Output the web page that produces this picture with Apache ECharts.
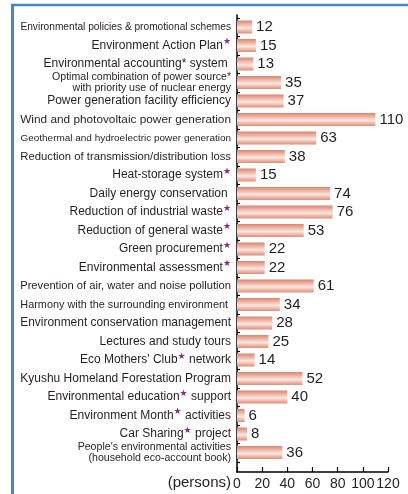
<!DOCTYPE html>
<html><head><meta charset="utf-8">
<script src="https://cdn.jsdelivr.net/npm/echarts@6/dist/echarts.min.js"></script>
<style>html,body{margin:0;padding:0;background:#fff}#c{width:408px;height:494px}</style>
</head><body><div id="c"></div>
<script>
// ---- data ----
const categories = [
  'Environmental policies & promotional schemes',
  'Environment Action Plan★',
  'Environmental accounting* system ',
  'Optimal combination of power source*\nwith priority use of nuclear energy',
  'Power generation facility efficiency',
  'Wind and photovoltaic power generation',
  'Geothermal and hydroelectric power generation',
  'Reduction of transmission/distribution loss',
  'Heat-storage system★',
  'Daily energy conservation ',
  'Reduction of industrial waste★',
  'Reduction of general waste★',
  'Green procurement★',
  'Environmental assessment★',
  'Prevention of air, water and noise pollution',
  'Harmony with the surrounding environment ',
  'Environment conservation management',
  'Lectures and study tours',
  "Eco Mothers' Club★ network",
  'Kyushu Homeland Forestation Program',
  'Environmental education★ support',
  'Environment Month★ activities',
  'Car Sharing★ project',
  "People's environmental activities\n(household eco-account book)"
];
const values = [12, 15, 13, 35, 37, 110, 63, 38, 15, 74, 76, 53, 22, 22, 61, 34, 28, 25, 14, 52, 40, 6, 8, 36];
const xMin = 0, xMax = 120, xStep = 20;
const unitLabel = '(persons)';

// ---- styling ----
const FONT = '"Liberation Sans", Arial, Helvetica, sans-serif';
const STAR = '★';
const TXT = '#231f20';
const ctx = document.createElement('canvas').getContext('2d');
function measure(t, size) { ctx.font = size + 'px ' + FONT; return ctx.measureText(t).width; }
const rich = {
  s: { fontSize: 9, color: '#8a2a8c', lineHeight: 8, verticalAlign: 'top', fontFamily: '"DejaVu Sans", sans-serif' }
};
categories.forEach((c, i) => {
  const multi = c.indexOf('\n') >= 0;
  let size;
  if (multi) size = 10.6;
  else {
    const hasStar = c.indexOf(STAR) >= 0;
    const w = measure(c.replace(STAR, ''), 12) + (hasStar ? 7 : 0);
    size = Math.min(12, 12 * 211 / w);
  }
  rich['c' + i] = { fontSize: size, fontFamily: FONT, color: TXT, lineHeight: multi ? 10.5 : 16 };
});
function fmt(val, idx) {
  return val.split('\n').map(line => {
    const parts = line.split(STAR);
    let out = '';
    parts.forEach((p, k) => {
      if (p.length) out += '{c' + idx + '|' + p + '}';
      if (k < parts.length - 1) out += '{s|' + STAR + '}';
    });
    return out;
  }).join('\n');
}

const chart = echarts.init(document.getElementById('c'), null, { renderer: 'canvas' });
const gridL = 237, gridR = 20;
chart.setOption({
  animation: false,
  backgroundColor: '#fff',
  grid: [
    { left: gridL, right: gridR, top: 17.75, height: 444, containLabel: false },
    { left: gridL, right: gridR, top: 15, bottom: 22, containLabel: false }
  ],
  xAxis: [
    { type: 'value', gridIndex: 0, min: xMin, max: xMax, interval: xStep, show: false },
    { type: 'value', gridIndex: 1, min: xMin, max: xMax, interval: xStep,
      axisLine: { show: true, lineStyle: { color: '#000', width: 1.5 } },
      axisTick: { show: true, inside: true, length: 5, lineStyle: { color: '#000', width: 1.2 } },
      splitLine: { show: false },
      axisLabel: { fontSize: 14, color: TXT, fontFamily: FONT, margin: 5 } }
  ],
  yAxis: [
    { type: 'category', gridIndex: 0, inverse: true, data: categories,
      axisLine: { show: false },
      axisTick: { show: true, inside: true, length: 3, lineStyle: { color: '#000', width: 1.2 } },
      axisLabel: { formatter: fmt, rich: rich, margin: 6, interval: 0 } },
    { type: 'value', gridIndex: 1, min: 0, max: 1,
      axisLine: { show: true, lineStyle: { color: '#000', width: 1.5 } },
      axisTick: { show: false }, axisLabel: { show: false }, splitLine: { show: false } }
  ],
  series: [{
    type: 'bar', xAxisIndex: 0, yAxisIndex: 0, data: values, barWidth: 13,
    itemStyle: { color: new echarts.graphic.LinearGradient(0, 0, 0, 1, [
      { offset: 0, color: '#dc846c' },
      { offset: 0.58, color: '#fce6df' },
      { offset: 1, color: '#df8c75' }
    ]) },
    label: { show: true, position: 'right', distance: 4, fontSize: 15, color: TXT, fontFamily: FONT }
  }],
  graphic: [
    { type: 'line', shape: { x1: 11, y1: 5, x2: 408, y2: 5 }, style: { stroke: '#3f88cb', lineWidth: 2.5 } },
    { type: 'line', shape: { x1: 12.5, y1: 4, x2: 12.5, y2: 494 }, style: { stroke: '#3f88cb', lineWidth: 3 } },
    { type: 'text', right: 408 - 231, top: 475, style: { text: unitLabel, fontSize: 15, fill: TXT, font: '15px ' + FONT } }
  ]
});
</script></body></html>
